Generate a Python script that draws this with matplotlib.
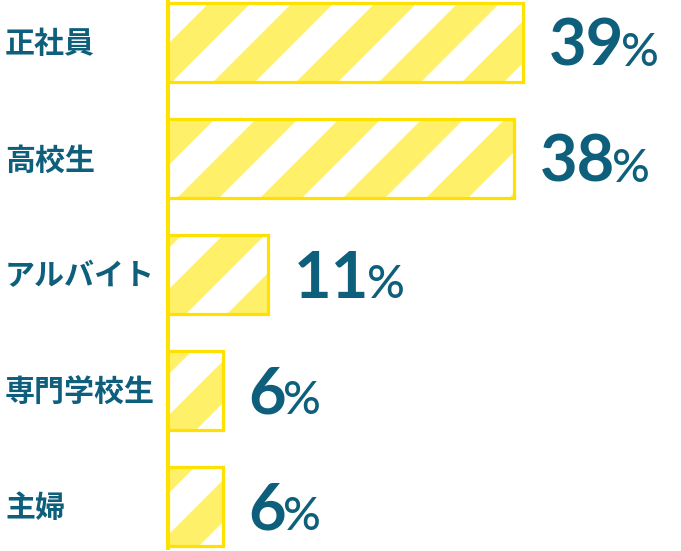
import matplotlib
matplotlib.use("Agg")
import matplotlib.pyplot as plt
from matplotlib.patches import Polygon
from matplotlib.transforms import IdentityTransform

# ---- data ----
categories = ["正社員", "高校生", "アルバイト", "専門学校生", "主婦"]
values = [39, 38, 11, 6, 6]
value_labels = ["39", "38", "11", "6", "6"]
pct_sign = "%"

# ---- style ----
W_PX, H_PX, DPI = 681, 551, 100
PT = 72.0 / DPI           # points per pixel
GOLD = "#FFE100"
STRIPE = "#FFF06A"
TEAL = "#0D5F7B"
stripe_phase = [41, 5, 55, 65, 68]   # px offset of first stripe per bar
PERIOD, STRIPE_W = 83, 42

fig = plt.figure(figsize=(W_PX / DPI, H_PX / DPI), dpi=DPI)
ax = fig.add_axes([0, 0, 1, 1])
ax.set_axis_off()

scale = 9.1                      # px per %
x0_px = 168
ax.set_xlim(-x0_px / scale, (W_PX - x0_px) / scale)
spacing = 116.0
c0 = 42.5
ax.set_ylim((H_PX - c0) / spacing, -c0 / spacing)
bar_h = 79.0 / spacing

ypos = list(range(len(categories)))

# white bar faces
faces = ax.barh(ypos, values, height=bar_h, color="white", edgecolor="none", zorder=1)

# diagonal stripes clipped to each bar
for rect, ph in zip(faces.patches, stripe_phase):
    (xl, yb), (xr, yt) = ax.transData.transform(
        [(rect.get_x(), rect.get_y() + rect.get_height()), (rect.get_x() + rect.get_width(), rect.get_y())]
    )
    yb, yt = min(yb, yt), max(yb, yt)
    h = yt - yb
    k = -3
    while True:
        c1 = ph + k * PERIOD
        c2 = c1 + STRIPE_W
        if xl + c1 - h > xr:
            break
        poly = Polygon([(xl + c1, yt), (xl + c2, yt), (xl + c2 - h, yb), (xl + c1 - h, yb)],
                       closed=True, facecolor=STRIPE, edgecolor="none",
                       transform=IdentityTransform(), zorder=2)
        ax.add_patch(poly)
        poly.set_clip_path(rect)
        k += 1

# bar outlines
ax.barh(ypos, values, height=bar_h, color="none", edgecolor=GOLD, linewidth=3.2 * PT, zorder=3)

# axis line
ax.axvline(0, ymin=3 / H_PX, ymax=1, color=GOLD, linewidth=4 * PT, zorder=4)

# category labels
for i, cat in enumerate(categories):
    ax.annotate(cat, xy=(5 / W_PX, i), xycoords=ax.get_yaxis_transform(),
                xytext=(0, -2 * PT), textcoords="offset points",
                ha="left", va="center", fontsize=30 * PT, fontweight="bold",
                color=TEAL, family=["Noto Sans CJK JP", "DejaVu Sans"])

# value labels
fig.canvas.draw()
renderer = fig.canvas.get_renderer()
for i, (v, lab) in enumerate(zip(values, value_labels)):
    t = ax.annotate(lab, xy=(v, i), xytext=(26 * PT, -23 * PT), textcoords="offset points",
                    ha="left", va="baseline", fontsize=65 * PT, fontweight="bold",
                    color=TEAL, family=["Lato", "DejaVu Sans"], zorder=5)
    bb = t.get_window_extent(renderer)
    cx, cy = ax.transData.transform((v, i))
    ax.annotate(pct_sign, xy=(bb.x1 - 3, cy - 23), xycoords="figure pixels",
                ha="left", va="baseline", fontsize=47 * PT, fontweight="medium",
                color=TEAL, family=["Lato", "DejaVu Sans"], zorder=5)

fig.savefig("out.png", dpi=DPI, facecolor="white")
